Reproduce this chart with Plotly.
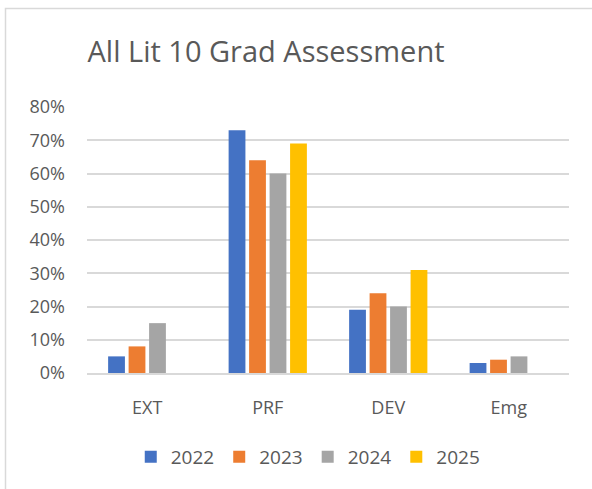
import plotly.graph_objects as go

categories = ["EXT", "PRF", "DEV", "Emg"]
years = ["2022", "2023", "2024", "2025"]
v2022 = [0.05, 0.73, 0.19, 0.03]
v2023 = [0.08, 0.64, 0.24, 0.04]
v2024 = [0.15, 0.60, 0.20, 0.05]
v2025 = [None, 0.69, 0.31, None]

colors = ["#4472C4", "#ED7D31", "#A5A5A5", "#FFC000"]
series = [v2022, v2023, v2024, v2025]

W, H = 592, 489
ml, mr, mt, mb = 87, 23, 107, 116
pw, ph = W - ml - mr, H - mt - mb

fig = go.Figure()
for name, vals, c in zip(years, series, colors):
    fig.add_trace(go.Bar(x=categories, y=vals, name=name,
                         marker=dict(color=c, line=dict(width=0))))

font = "Open Sans, Noto Sans, sans-serif"
fig.update_layout(
    width=W, height=H,
    margin=dict(l=ml, r=mr, t=mt, b=mb),
    paper_bgcolor="white", plot_bgcolor="white",
    barmode="group", bargap=0.32, bargroupgap=0.18,
    title=dict(text="All Lit 10 Grad Assessment", x=266 / W, xanchor="center",
               y=1 - 52 / H, yanchor="middle",
               font=dict(family=font, size=29, color="#595959")),
    font=dict(family=font, color="#595959"),
    xaxis=dict(showgrid=False, showline=True, linecolor="#D9D9D9", linewidth=2,
               ticks="", tickfont=dict(size=18, color="#595959"),
               ticklabelstandoff=17),
    yaxis=dict(range=[0, 0.8], dtick=0.1, tickformat=".0%",
               showgrid=True, gridcolor="#D9D9D9", gridwidth=2,
               zeroline=False, showline=False, ticks="",
               tickfont=dict(size=18, color="#595959"),
               ticklabelstandoff=21),
    legend=dict(orientation="h", x=0.458, xanchor="center", y=-(457 - 373) / ph,
                yanchor="middle", font=dict(size=19, color="#595959"),
                itemwidth=30, traceorder="normal"),
    showlegend=True,
)

# outer chart border (top and left visible)
fig.add_shape(type="rect", xref="paper", yref="paper",
              x0=(5.5 - ml) / pw, x1=(W + 20 - ml) / pw,
              y0=(mt + ph - H - 20) / ph, y1=(mt + ph - 8.5) / ph,
              line=dict(color="#D9D9D9", width=1.5), layer="below")

fig.write_html("out.html", config={"displayModeBar": False},
               post_script="document.body.style.margin='0';")
